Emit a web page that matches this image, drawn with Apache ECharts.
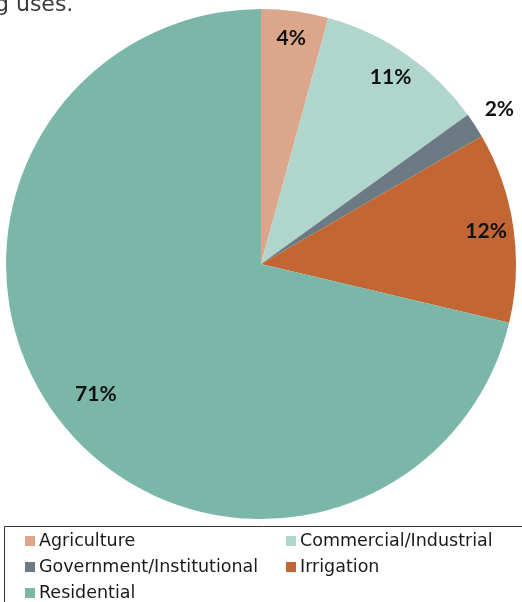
<!DOCTYPE html>
<html>
<head>
<meta charset="utf-8">
<script src="https://cdn.jsdelivr.net/npm/echarts@6/dist/echarts.min.js"></script>
<style>
  html, body { margin: 0; padding: 0; background: #fff; }
  #main { width: 522px; height: 602px; }
</style>
</head>
<body>
<div id="main"></div>
<script>
// slices, clockwise from 12 o'clock
var categories = ['Agriculture', 'Commercial/Industrial', 'Government/Institutional', 'Irrigation', 'Residential'];
var shares = [4.25, 10.8, 1.6, 12.05, 71.3];
var colors = ['#DBA68A', '#B0D5CC', '#6B7A83', '#C26633', '#7AB7A8'];

// which ring each percent label sits on
var labelsNearEdge = ['Agriculture', 'Commercial/Industrial', 'Irrigation'];
var labelsDeeper = ['Residential'];
var labelsOutside = ['Government/Institutional'];

var legendLeft = ['Agriculture', 'Government/Institutional', 'Residential'];
var legendRight = ['Commercial/Industrial', 'Irrigation'];

var chartDom = document.getElementById('main');
var myChart = echarts.init(chartDom);
var option;

var labelFont = {
  fontFamily: 'Lato',
  fontWeight: 'bold',
  fontSize: 21,
  color: '#111'
};

function pct(p) {
  return Math.round(p.percent) + '%';
}

// transparent copy of the pie, only used to carry labels at a given radius
function labelRing(radius, names) {
  return {
    type: 'pie',
    center: [261, 264],
    radius: radius,
    startAngle: 90,
    clockwise: true,
    silent: true,
    z: 5,
    itemStyle: { color: 'rgba(0,0,0,0)', borderWidth: 0 },
    emphasis: { disabled: true },
    labelLine: { show: false },
    data: categories.map(function (c, i) {
      return {
        name: c,
        value: shares[i],
        label: Object.assign({ show: names.indexOf(c) >= 0, position: 'inside', formatter: pct }, labelFont)
      };
    })
  };
}

function legendBox(left, names) {
  return {
    orient: 'vertical',
    left: left,
    top: 532,
    padding: 0,
    itemWidth: 10,
    itemHeight: 10,
    itemGap: 8,
    icon: 'rect',
    selectedMode: false,
    data: names,
    textStyle: {
      fontFamily: 'DejaVu Sans',
      fontSize: 17.5,
      lineHeight: 18,
      color: '#1a1a1a',
      padding: [0, 0, 0, -1]
    }
  };
}

option = {
  animation: false,
  backgroundColor: '#fff',
  graphic: [
    {
      type: 'text',
      left: -5,
      style: {
        text: 'g uses.',
        x: 0,
        y: 5,
        verticalAlign: 'middle',
        font: '22px "DejaVu Sans"',
        fill: '#3a3a3a'
      }
    },
    {
      type: 'rect',
      shape: { x: 4.5, y: 526.5, width: 540, height: 100 },
      style: { fill: 'none', stroke: '#333', lineWidth: 1 },
      z: -1
    }
  ],
  legend: [legendBox(25, legendLeft), legendBox(286, legendRight)],
  series: [
    {
      type: 'pie',
      center: [261, 264],
      radius: [0, 255],
      startAngle: 90,
      clockwise: true,
      label: { show: false },
      labelLine: { show: false },
      itemStyle: { borderWidth: 0 },
      emphasis: { disabled: true },
      data: categories.map(function (c, i) {
        return { name: c, value: shares[i], itemStyle: { color: colors[i] } };
      })
    },
    labelRing([194, 255], labelsNearEdge),
    labelRing([160, 255], labelsDeeper),
    labelRing([255, 307], labelsOutside)
  ]
};

option && myChart.setOption(option);
</script>
</body>
</html>
